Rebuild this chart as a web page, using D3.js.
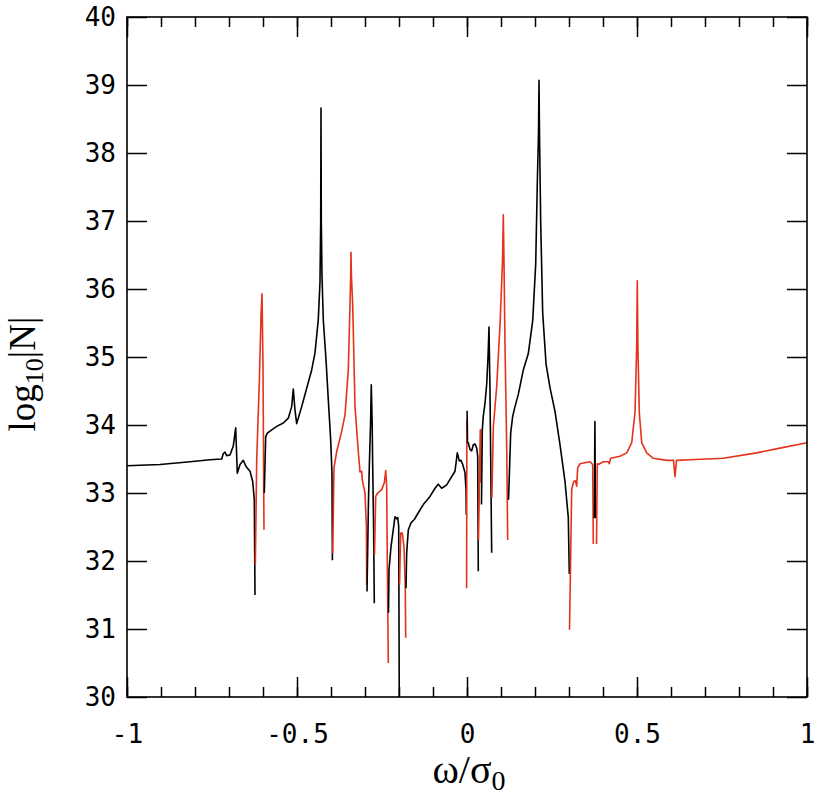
<!DOCTYPE html>
<html>
<head>
<meta charset="utf-8">
<script src="https://cdn.jsdelivr.net/npm/d3@7"></script>
<style>
  body { margin: 0; background: #fff; }
  .tick text { font-family: "DejaVu Sans Mono", monospace; font-size: 26px; fill: #000; }
  .tick line { stroke: #000; stroke-width: 1.5px; }
  .title { font-family: "Liberation Serif", "Times New Roman", serif; fill: #000; }
</style>
</head>
<body>
<div id="chart"></div>
<script>
  var margin = { top: 17, right: 10, bottom: 102, left: 127 },
      width = 817 - margin.left - margin.right,
      height = 799 - margin.top - margin.bottom;

  // omega / sigma_0 and log10|N|
  var omega = [
    -1.0000,-0.9029,-0.8147,-0.7559,-0.7215,-0.7168,-0.7118,-0.7068,-0.6971,-0.6874,
    -0.6803,-0.6756,-0.6676,-0.6579,-0.6500,-0.6382,-0.6303,-0.6256,-0.6235,
    -0.6226,-0.6185,-0.6109,-0.6059,-0.6029,-0.6000,-0.5971,
    -0.5962,-0.5921,-0.5874,-0.5794,-0.5597,-0.5403,-0.5256,-0.5156,-0.5109,-0.5059,
    -0.5009,-0.4862,-0.4715,-0.4568,-0.4471,-0.4374,-0.4324,-0.4303,-0.4294,-0.4285,
    -0.4265,-0.4226,-0.4147,-0.4079,-0.4009,-0.3971,-0.3959,
    -0.3950,-0.3912,-0.3832,-0.3685,-0.3588,-0.3491,-0.3441,-0.3421,-0.3412,-0.3400,
    -0.3362,-0.3294,-0.3197,-0.3147,-0.3097,-0.3079,-0.3000,-0.2959,-0.2950,
    -0.2941,-0.2897,-0.2874,-0.2838,-0.2815,-0.2788,-0.2774,-0.2747,-0.2726,
    -0.2721,-0.2685,-0.2626,-0.2509,-0.2432,-0.2391,-0.2362,-0.2344,-0.2315,
    -0.2309,-0.2294,-0.2235,-0.2168,-0.2118,-0.2068,-0.2038,-0.2009,-0.1991,
    -0.1985,-0.1950,-0.1903,-0.1853,-0.1815,-0.1803,
    -0.1794,-0.1774,-0.1726,-0.1647,-0.1550,-0.1432,-0.1285,-0.1088,-0.0941,-0.0844,
    -0.0744,-0.0597,-0.0500,-0.0353,-0.0285,-0.0226,-0.0176,-0.0126,-0.0059,-0.0029,-0.0021,
    -0.0012,-0.0003,
    0.0003,0.0015,0.0038,0.0088,0.0138,0.0185,0.0235,0.0285,0.0315,0.0332,
    0.0338,0.0391,0.0403,0.0415,
    0.0426,0.0450,0.0479,0.0529,0.0579,0.0618,0.0647,0.0676,0.0726,
    0.0732,0.0774,0.0824,0.0874,0.0971,0.1044,0.1068,0.1088,0.1118,0.1168,0.1197,
    0.1221,0.1285,0.1344,0.1412,0.1509,0.1656,0.1803,0.1932,0.2021,0.2068,
    0.2103,0.2118,0.2132,0.2168,0.2226,0.2324,0.2441,0.2588,0.2735,0.2882,0.2979,0.3009,
    0.3015,0.3079,0.3138,0.3191,0.3226,0.3256,0.3324,0.3421,0.3618,0.3697,0.3715,
    0.3744,0.3762,0.3779,
    0.3809,0.3832,0.3862,0.4009,0.4156,0.4185,0.4226,0.4500,0.4697,0.4844,
    0.4941,0.4991,0.5009,0.5026,0.5068,0.5138,0.5285,0.5479,0.5874,0.6074,
    0.6118,0.6162,0.6559,0.7538,0.8521,0.9206,1.0000
  ];
  var logN = [
    33.40,33.42,33.46,33.49,33.50,33.58,33.60,33.55,33.56,33.69,
    33.96,33.29,33.42,33.48,33.39,33.32,33.17,32.90,31.50,
    31.94,33.49,34.62,35.60,35.93,34.86,32.46,
    33.00,33.83,33.88,33.91,33.98,34.03,34.10,34.27,34.53,34.22,
    34.02,34.27,34.54,34.81,35.06,35.55,36.10,37.00,38.66,37.00,
    36.20,35.54,34.96,34.37,33.78,33.29,32.01,
    32.11,33.37,33.61,33.91,34.15,34.81,35.77,36.20,36.54,36.20,
    35.77,34.27,33.61,33.31,33.32,33.19,33.00,32.50,31.65,
    31.55,32.90,33.37,34.00,34.59,34.00,33.40,32.50,31.38,
    32.09,32.95,33.00,33.05,33.15,33.33,33.10,32.02,30.50,
    31.24,31.87,32.21,32.46,32.65,32.62,32.64,32.51,29.80,
    31.65,32.41,32.41,32.21,31.60,30.87,
    31.60,32.12,32.46,32.56,32.61,32.71,32.83,32.95,33.07,33.13,
    33.07,33.12,33.20,33.32,33.59,33.47,33.48,33.42,33.30,33.05,32.68,
    31.60,34.08,
    34.21,33.74,33.74,33.64,33.62,33.71,33.72,33.66,33.54,31.85,
    32.31,33.93,33.93,33.15,
    32.83,33.93,34.13,34.32,34.60,35.00,35.44,34.50,32.12,
    32.93,33.97,34.27,34.57,35.47,36.40,37.09,36.40,35.17,33.67,32.31,
    32.90,33.88,34.13,34.27,34.45,34.81,35.05,35.53,36.37,37.57,
    38.30,39.07,38.30,36.97,35.65,34.90,34.55,34.20,33.71,33.17,32.64,31.81,
    30.99,33.05,33.17,33.18,33.10,33.37,33.43,33.44,33.46,33.42,32.25,
    32.63,34.05,32.63,
    32.25,33.43,33.42,33.46,33.46,33.43,33.51,33.54,33.59,33.74,
    34.18,35.16,36.12,35.16,34.18,33.74,33.59,33.51,33.48,33.48,
    33.24,33.48,33.49,33.51,33.59,33.66,33.74
  ];
  // consecutive runs of the curve, alternating sign of N (black: +, red: -)
  var runLength = [19,7,27,19,9,9,9,6,21,2,10,4,9,11,22,11,3,27];
  var runColor = ["#000000", "#e4321b"];

  var xMajor = [-1, -0.5, 0, 0.5, 1],
      xMinor = d3.range(-10, 11).map(function(d) { return d / 10; }),
      yMajor = d3.range(30, 41);

  var x = d3.scaleLinear().domain([-1, 1]).range([0, width]);
  var y = d3.scaleLinear().domain([30, 40]).range([height, 0]);

  const svg = d3.select("#chart").append("svg")
      .attr("width", 817)
      .attr("height", 799)
      .append("g")
      .attr("transform", "translate(" + margin.left + "," + margin.top + ")");

  svg.append("clipPath").attr("id", "clip")
    .append("rect").attr("width", width).attr("height", height);

  // build runs
  var runs = [], k = 0;
  runLength.forEach(function(n, i) {
    var pts = [];
    for (var j = 0; j < n && k < omega.length; j++, k++) pts.push([omega[k], logN[k]]);
    runs.push({ color: runColor[i % 2], pts: pts });
  });

  var line = d3.line()
      .x(function(d) { return x(d[0]); })
      .y(function(d) { return y(d[1]); });

  svg.append("g").attr("clip-path", "url(#clip)")
    .selectAll("path").data(runs).enter().append("path")
      .attr("d", function(d) { return line(d.pts); })
      .attr("fill", "none")
      .attr("stroke", function(d) { return d.color; })
      .attr("stroke-width", 1.6)
      .attr("stroke-linejoin", "round");

  // axes, ticks pointing inward
  function clean(g) { g.select(".domain").remove(); }

  svg.append("g").attr("transform", "translate(0," + height + ")")
      .call(d3.axisBottom(x).tickValues(xMinor).tickSize(-10).tickFormat(""))
      .call(clean);
  svg.append("g").attr("transform", "translate(0," + height + ")")
      .call(d3.axisBottom(x).tickValues(xMajor).tickSize(-20).tickPadding(28)
        .tickFormat(function(d) { return d3.format("")(d).replace("−", "-"); }))
      .call(clean);
  svg.append("g")
      .call(d3.axisTop(x).tickValues(xMinor).tickSize(-10).tickFormat(""))
      .call(clean);
  svg.append("g")
      .call(d3.axisTop(x).tickValues(xMajor).tickSize(-20).tickFormat(""))
      .call(clean);
  svg.append("g")
      .call(d3.axisLeft(y).tickValues(yMajor).tickSize(-20).tickPadding(11).tickFormat(d3.format("d")))
      .call(clean);
  svg.append("g").attr("transform", "translate(" + width + ",0)")
      .call(d3.axisRight(y).tickValues(yMajor).tickSize(-20).tickFormat(""))
      .call(clean);

  svg.selectAll(".tick text").attr("font-family", "DejaVu Sans Mono").attr("font-size", 26);

  svg.append("rect")
      .attr("width", width).attr("height", height)
      .attr("fill", "none").attr("stroke", "#000").attr("stroke-width", 1.6);

  // titles
  var xt = svg.append("text").attr("class", "title")
      .attr("x", width / 2 + 2).attr("y", height + 86)
      .attr("text-anchor", "middle").style("font-size", "40px");
  xt.append("tspan").text("ω/σ");
  xt.append("tspan").attr("dy", 7).style("font-size", "28px").text("0");

  var yt = svg.append("text").attr("class", "title")
      .attr("transform", "translate(" + (35 - margin.left) + "," + 357 + ") rotate(-90)")
      .attr("text-anchor", "middle").style("font-size", "37px");
  yt.append("tspan").text("log");
  yt.append("tspan").attr("dy", 8).style("font-size", "26px").text("10");
  yt.append("tspan").attr("dy", -8).text("|N|");
</script>
</body>
</html>
